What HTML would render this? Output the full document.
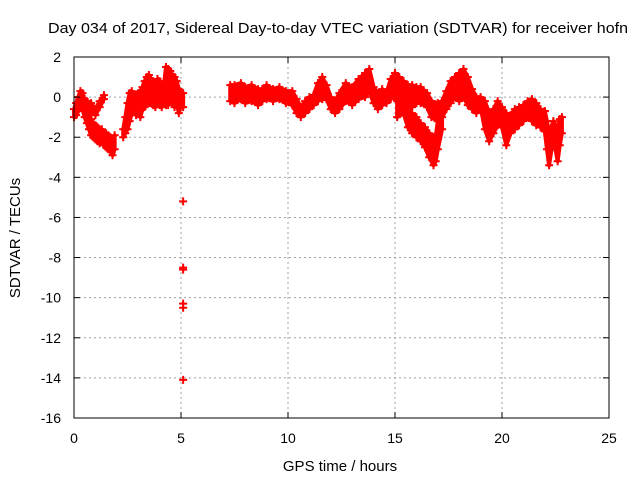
<!DOCTYPE html>
<html><head><meta charset="utf-8"><style>
body{margin:0;background:#fff}
svg text{font-family:"Liberation Sans",sans-serif;font-size:14px;fill:#000}
</style></head><body>
<svg id="chart" width="640" height="480" xmlns="http://www.w3.org/2000/svg">
<rect width="640" height="480" fill="#fff"/>
<g id="grid"></g>
<g id="marks"></g>
<rect x="74" y="57" width="535" height="361" fill="none" stroke="#000" stroke-width="1"/>
<g id="ticks"></g>
<text x="48" y="33" textLength="580" lengthAdjust="spacingAndGlyphs" style="font-size:15px">Day 034 of 2017, Sidereal Day-to-day VTEC variation (SDTVAR) for receiver hofn</text>
<text x="340" y="471" text-anchor="middle" style="font-size:15px">GPS time / hours</text>
<text transform="translate(20,238) rotate(-90)" text-anchor="middle" style="font-size:15px">SDTVAR / TECUs</text>
</svg>
<script>
const xTicks=[0,5,10,15,20,25];
const yTicks=[2,0,-2,-4,-6,-8,-10,-12,-14,-16];
// segments: times, low values, high values
const segA_t=[0,0.1,0.2,0.3,0.4,0.5,0.6,0.7,0.8,0.9,1.0,1.1,1.2,1.3,1.4,1.5,1.6,1.7,1.8,1.9];
const segA_lo=[-1,-0.9,-0.7,-0.5,-0.6,-1,-1.3,-1.6,-1.9,-2.0,-2.1,-2.2,-2.3,-2.2,-2.4,-2.5,-2.6,-2.7,-2.9,-2.6];
const segA_hi=[-0.6,-0.3,0,0.3,0.2,-0.2,-0.6,-0.8,-1.1,-1.3,-1.4,-1.5,-1.6,-1.6,-1.8,-1.8,-1.9,-2.0,-2.2,-1.9];
const segA2_t=[0.5,0.6,0.8,1.0,1.2,1.4];
const segA2_lo=[-0.4,-0.5,-0.6,-0.9,-0.5,-0.1];
const segA2_hi=[-0.1,-0.2,-0.3,-0.6,-0.2,0.1];
const segB_t=[2.3,2.4,2.5,2.6,2.7,2.8,2.9,3.0,3.1,3.2,3.3,3.4,3.5,3.6,3.7,3.8,3.9,4.0,4.1,4.2,4.3,4.4,4.5,4.6,4.7,4.8,4.9,5.0,5.1];
const segB_lo=[-2.0,-1.8,-1.6,-1.2,-0.8,-0.5,-0.9,-0.8,-1,-0.6,-0.5,-0.3,-0.3,-0.3,-0.4,-0.5,-0.3,-0.4,-0.5,-0.2,-0.4,-0.4,0,-0.3,-0.5,-0.3,-0.8,-0.4,-0.5];
const segB_hi=[-1.6,-1.0,-0.3,0.2,0.3,0,0.1,0.2,0.3,0.5,0.8,1.0,1.1,0.9,0.8,0.7,0.9,0.8,0.6,0.6,1.5,1.4,1.3,1.1,1.0,0.8,0.4,0.2,0.2];
const segC_t=[7.3,7.5,7.8,8.0,8.3,8.6,8.8,9.0,9.3,9.6,9.9,10.2,10.4,10.6,10.8,11.0,11.2,11.4,11.6,11.8,12.0,12.2,12.4,12.7,13.0,13.3,13.6,13.8,14.0,14.2,14.4,14.6,14.8,15.0,15.2,15.4,15.6,15.8,16.0,16.2,16.5,16.7,17.0,17.2,17.4,17.6,17.8,18.0,18.2,18.4,18.6,18.8,19.0,19.2,19.4,19.6,19.8,20.0,20.2,20.4,20.6,20.8,21.0,21.2,21.4,21.6,21.8,22.0];
const segC_lo=[-0.2,-0.3,-0.1,-0.3,-0.2,-0.4,-0.2,-0.1,-0.2,-0.1,-0.3,-0.4,-0.8,-1.0,-0.8,-0.6,-0.4,-0.2,-0.1,-0.1,-0.6,-0.8,-0.6,-0.2,-0.4,-0.1,0,0.3,-0.3,-0.6,-0.4,-0.3,-0.1,0,-0.3,-0.5,-0.5,-0.5,-0.3,-0.3,-0.5,-1.0,-1.2,-1.0,-0.6,-0.3,0,-0.2,0,-0.4,-0.6,-0.8,-0.5,-1.6,-2.2,-1.8,-1.4,-1.5,-2.4,-1.8,-1.6,-1.4,-1.2,-1.0,-1.2,-1.4,-1.5,-1.7];
const segC_hi=[0.6,0.6,0.7,0.5,0.6,0.4,0.4,0.6,0.4,0.5,0.3,0.3,-0.1,-0.5,-0.2,0,0.1,0.7,1.0,0.6,0,-0.2,0.2,0.7,0.5,0.9,1.2,1.4,0.5,0.2,0.4,0.2,0.9,1.2,1.0,0.8,0.6,0.6,0.5,0.5,0.2,-0.2,-0.3,-0.2,0.3,0.8,1.0,1.2,1.4,1.0,0.4,0,0,-0.2,-0.8,-0.6,-0.2,-0.5,-0.8,-0.9,-0.6,-0.5,-0.4,-0.2,-0.1,-0.3,-0.6,-0.7];
const segD_t=[15.1,15.4,15.6,15.8,16.0,16.2,16.4,16.6,16.8,16.9,17.0,17.2];
const segD_lo=[-1.0,-0.8,-1.5,-1.8,-2.0,-2.2,-2.5,-3.0,-3.4,-3.2,-2.6,-1.6];
const segD_hi=[-0.2,0,-0.6,-0.8,-1.0,-1.3,-1.5,-1.8,-2.0,-2.0,-1.2,-0.4];
const segE_t=[22.0,22.1,22.2,22.4,22.6,22.7,22.8];
const segE_lo=[-1.7,-2.6,-3.4,-2.0,-3.2,-2.4,-1.8];
const segE_hi=[-0.7,-1.2,-1.8,-1.2,-1.6,-1.1,-1.0];
const outT=[5.1,5.1,5.1,5.1,5.1,5.1];
const outV=[-5.2,-8.5,-8.6,-10.3,-10.5,-14.1];

const X=t=>74+t*535/25;
const Y=v=>57+(2-v)*361/18;
const NS="http://www.w3.org/2000/svg";
function mk(tag,attrs,parent){const e=document.createElementNS(NS,tag);for(const k in attrs)e.setAttribute(k,attrs[k]);parent.appendChild(e);return e;}
const grid=document.getElementById('grid'),ticks=document.getElementById('ticks'),marks=document.getElementById('marks');
xTicks.forEach(t=>{
  if(t>0&&t<25){const g=mk('line',{x1:X(t),x2:X(t),y1:57,y2:418,stroke:'#a0a0a0','stroke-dasharray':'2,3'},grid);
  
  }
  const a=mk('line',{x1:X(t),x2:X(t),y1:418,y2:412,stroke:'#000'},ticks);
  
  
  const b=mk('line',{x1:X(t),x2:X(t),y1:57,y2:63,stroke:'#000'},ticks);
  
  
  const l=mk('text',{x:X(t),y:443,'text-anchor':'middle'},ticks);l.textContent=t;
  
  
});
yTicks.forEach(v=>{
  if(v<2&&v>-16){const g=mk('line',{x1:74,x2:609,y1:Y(v),y2:Y(v),stroke:'#a0a0a0','stroke-dasharray':'2,3'},grid);
  
  }
  const a=mk('line',{x1:74,x2:80,y1:Y(v),y2:Y(v),stroke:'#000'},ticks);
  
  
  const b=mk('line',{x1:603,x2:609,y1:Y(v),y2:Y(v),stroke:'#000'},ticks);
  
  
  const l=mk('text',{x:61,y:Y(v)+5,'text-anchor':'end'},ticks);l.textContent=v;
  
  
});
function plus(t,v,color){
  const x=X(t),y=Y(v);
  const p=mk('path',{d:`M${x-4},${y}h8M${x},${y-4}v8`,stroke:color,'stroke-width':2},marks);
  
  
}
function seg(ts,lo,hi){
  let pts=ts.map((t,i)=>X(t)+','+Y(hi[i]));
  for(let i=ts.length-1;i>=0;i--)pts.push(X(ts[i])+','+Y(lo[i]));
  const p=mk('polygon',{points:pts.join(' '),fill:'#ff0000',stroke:'#ff0000','stroke-width':4,'stroke-linejoin':'round'},marks);
  
  
  ts.forEach((t,i)=>{plus(t,lo[i],'#ff0000');plus(t,hi[i],'#ff0000');});
}
seg(segA_t,segA_lo,segA_hi);
seg(segA2_t,segA2_lo,segA2_hi);
seg(segB_t,segB_lo,segB_hi);
seg(segC_t,segC_lo,segC_hi);
seg(segD_t,segD_lo,segD_hi);
seg(segE_t,segE_lo,segE_hi);
outT.forEach((t,i)=>plus(t,outV[i],'#ff0000'));
</script>
</body></html>
